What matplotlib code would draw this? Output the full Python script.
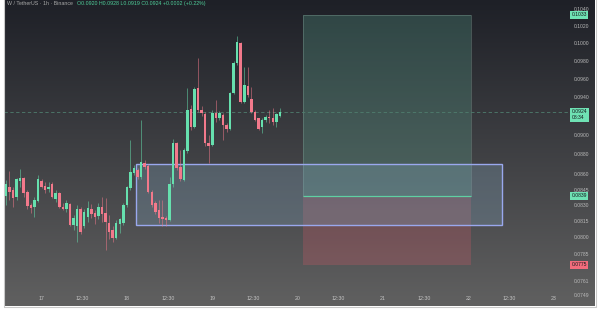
import numpy as np
import matplotlib
matplotlib.use("Agg")
import matplotlib.pyplot as plt
from matplotlib import transforms
from matplotlib.patches import Rectangle
from matplotlib.ticker import FixedLocator, NullLocator, NullFormatter

plt.rcParams["font.family"] = ["Liberation Sans", "DejaVu Sans"]

# --- 1h candles, x = hours since day 17 00:00
hours = np.arange(-10, 68)
opens = [0.0839, 0.0848, 0.0845, 0.0838, 0.0853, 0.0856, 0.0843, 0.0830, 0.0828, 0.0834,
         0.0853, 0.0849, 0.0846, 0.0850, 0.0836, 0.0842, 0.0828, 0.0826, 0.0831, 0.0811,
         0.0810, 0.0826, 0.0810, 0.0819, 0.0826, 0.0823, 0.0820, 0.0828, 0.0823, 0.0813,
         0.0807, 0.0799, 0.0812, 0.0813, 0.0830, 0.0847, 0.0861, 0.0864, 0.0857, 0.0871,
         0.0868, 0.0843, 0.0832, 0.0825, 0.0819, 0.0818, 0.0816, 0.0850, 0.0892, 0.0867,
         0.0854, 0.0883, 0.0927, 0.0908, 0.0950, 0.0926, 0.0922, 0.0892, 0.0889, 0.0923,
         0.0918, 0.0921, 0.0910, 0.0906, 0.0944, 0.0977, 0.1000, 0.0935, 0.0952, 0.0938,
         0.0924, 0.0917, 0.0908, 0.0915, 0.0919, 0.0918, 0.0913, 0.0920]
highs = [0.0854, 0.0863, 0.0848, 0.0856, 0.0865, 0.0857, 0.0845, 0.0832, 0.0838, 0.0859,
         0.0855, 0.0852, 0.0852, 0.0852, 0.0845, 0.0843, 0.0832, 0.0835, 0.0832, 0.0821,
         0.0830, 0.0828, 0.0826, 0.0834, 0.0831, 0.0825, 0.0832, 0.0838, 0.0837, 0.0821,
         0.0810, 0.0816, 0.0818, 0.0832, 0.0849, 0.0895, 0.0869, 0.0866, 0.0915, 0.0874,
         0.0870, 0.0845, 0.0834, 0.0835, 0.0835, 0.0820, 0.0857, 0.0896, 0.0893, 0.0884,
         0.0886, 0.0950, 0.0931, 0.0951, 0.0983, 0.0930, 0.0924, 0.0900, 0.0926, 0.0937,
         0.0925, 0.0923, 0.0912, 0.0945, 0.0980, 0.1008, 0.1001, 0.0973, 0.0973, 0.0951,
         0.0926, 0.0918, 0.0918, 0.0921, 0.0926, 0.0928, 0.0923, 0.0928]
lows = [0.0830, 0.0835, 0.0828, 0.0835, 0.0848, 0.0838, 0.0826, 0.0823, 0.0819, 0.0833,
        0.0847, 0.0842, 0.0843, 0.0837, 0.0833, 0.0827, 0.0825, 0.0824, 0.0810, 0.0807,
        0.0796, 0.0803, 0.0809, 0.0814, 0.0818, 0.0812, 0.0817, 0.0814, 0.0788, 0.0798,
        0.0796, 0.0798, 0.0804, 0.0811, 0.0828, 0.0845, 0.0859, 0.0855, 0.0855, 0.0865,
        0.0842, 0.0828, 0.0822, 0.0813, 0.0810, 0.0810, 0.0815, 0.0848, 0.0864, 0.0853,
        0.0853, 0.0881, 0.0905, 0.0907, 0.0924, 0.0920, 0.0888, 0.0871, 0.0888, 0.0913,
        0.0915, 0.0895, 0.0903, 0.0905, 0.0943, 0.0975, 0.0934, 0.0934, 0.0940, 0.0923,
        0.0914, 0.0905, 0.0902, 0.0913, 0.0912, 0.0910, 0.0908, 0.0919]
closes = [0.0850, 0.0843, 0.0837, 0.0855, 0.0856, 0.0842, 0.0829, 0.0827, 0.0835, 0.0855,
          0.0848, 0.0845, 0.0848, 0.0838, 0.0842, 0.0828, 0.0826, 0.0832, 0.0811, 0.0818,
          0.0826, 0.0805, 0.0824, 0.0827, 0.0822, 0.0819, 0.0828, 0.0822, 0.0814, 0.0805,
          0.0799, 0.0813, 0.0817, 0.0830, 0.0848, 0.0862, 0.0866, 0.0857, 0.0872, 0.0867,
          0.0843, 0.0830, 0.0824, 0.0818, 0.0817, 0.0816, 0.0850, 0.0892, 0.0866, 0.0855,
          0.0884, 0.0926, 0.0908, 0.0949, 0.0926, 0.0923, 0.0892, 0.0888, 0.0923, 0.0917,
          0.0923, 0.0910, 0.0906, 0.0944, 0.0977, 0.1001, 0.0935, 0.0953, 0.0942, 0.0924,
          0.0915, 0.0906, 0.0915, 0.0919, 0.0917, 0.0913, 0.0922, 0.0924]

# --- drawings (hours, price)
zone_t = (26.6, 129.5)
zone_p = (0.0811, 0.0870)
pos_t = (73.6, 120.6)
entry, target, stop = 0.0839, 0.1033, 0.0775
last_price = 0.0924
countdown = "08:34"

price_ticks = [0.1040, 0.1020, 0.1000, 0.0980, 0.0960, 0.0940, 0.0900, 0.0880, 0.0860,
               0.0845, 0.0830, 0.0815, 0.0800, 0.0785, 0.0761, 0.0749]
time_ticks = [0, 11.5, 24, 35.5, 48, 59.5, 72, 83.5, 96, 107.5, 120, 131.5, 144]
time_labels = ["17", "12:30", "18", "12:30", "19", "12:30", "20", "12:30",
               "21", "12:30", "22", "12:30", "23"]

title_a = "W / TetherUS · 1h · Binance"
title_b = "O0.0920 H0.0928 L0.0919 C0.0924 +0.0002 (+0.22%)"

UP, DOWN = "#66e0ae", "#f2798b"
W, H = 600, 315

fig = plt.figure(figsize=(6, 3.15), dpi=100)
fig.patch.set_facecolor("white")

# background gradient over the whole chart frame
bg = fig.add_axes([4 / W, 9 / H, 591 / W, 306 / H])
top = np.array([30, 32, 39]) / 255
bot = np.array([96, 96, 96]) / 255
grad = np.linspace(0, 1, 256)[:, None, None]
bg.imshow(top + (bot - top) * grad, aspect="auto", extent=[0, 1, 0, 1], origin="upper")
bg.set_axis_off()
fig.add_artist(Rectangle((3.5 / W, 8.5 / H), 592 / W, 310 / H, transform=fig.transFigure,
                         fill=False, ec="#c9c9c9", lw=0.8))

ax = fig.add_axes([4 / W, 9 / H, 564 / W, 306 / H])
ax.set_facecolor("none")
ax.set_yscale("log")
ax.set_xlim(-10.54, 147.98)
ax.set_ylim(0.07392, 0.10508)
for s in ax.spines.values():
    s.set_visible(False)

# position tool + zone
ax.add_patch(Rectangle((pos_t[0], entry), pos_t[1] - pos_t[0], target - entry,
                       fc="#5fb39a", alpha=0.25, ec="none", zorder=1))
ax.add_patch(Rectangle((pos_t[0], entry), pos_t[1] - pos_t[0], target - entry,
                       fill=False, ec="#7a9990", alpha=0.5, lw=0.6, zorder=1))
ax.add_patch(Rectangle((pos_t[0], stop), pos_t[1] - pos_t[0], entry - stop,
                       fc="#f05a6a", alpha=0.22, ec="none", zorder=1))
ax.add_patch(Rectangle((zone_t[0], zone_p[0]), zone_t[1] - zone_t[0], zone_p[1] - zone_p[0],
                       fc="#80a2ba", alpha=0.3, ec="none", zorder=2))
ax.add_patch(Rectangle((zone_t[0], zone_p[0]), zone_t[1] - zone_t[0], zone_p[1] - zone_p[0],
                       fill=False, ec="#9aa8ee", lw=1.0, zorder=2))
ax.hlines(entry, pos_t[0], pos_t[1], color="#5fd0a3", lw=0.9, zorder=3)

# last price line
ax.axhline(last_price, color="#4f7d6e", lw=0.6, ls=(0, (4, 3)), zorder=2)

# candles
o = np.array(opens); c = np.array(closes)
cols = [UP if cc >= oo else DOWN for oo, cc in zip(o, c)]
ax.vlines(hours, lows, highs, colors=cols, lw=0.65, alpha=0.55, zorder=4)
bottoms = np.minimum(o, c)
heights = np.maximum(np.abs(c - o), 0.00009)
ax.bar(hours, heights, bottom=bottoms, width=0.7, color=cols, lw=0, zorder=5)

# axes / ticks
ax.yaxis.tick_right()
ax.yaxis.set_major_locator(FixedLocator(price_ticks))
ax.yaxis.set_minor_locator(NullLocator())
ax.yaxis.set_minor_formatter(NullFormatter())
ax.set_yticklabels([f"{p:.4f}" for p in price_ticks])
ax.tick_params(axis="y", length=0, pad=3.8, labelsize=3.6, labelcolor="#b9b9b9")
ax.set_xticks(time_ticks)
ax.set_xticklabels(time_labels)
ax.tick_params(axis="x", length=0, pad=-7.5, labelsize=3.8, labelcolor="#c4c4c4")

# price tags
yx = transforms.blended_transform_factory(ax.transAxes, ax.transData)
def tag(price, text, color, dy=0):
    tr = transforms.offset_copy(yx, fig=fig, x=0, y=dy, units="dots")
    ax.text(1.0062, price, text, transform=tr, ha="left", va="center", fontsize=3.6,
            color="#15181c", linespacing=1.25,
            bbox=dict(boxstyle="square,pad=0.3", fc=color, ec="none"), zorder=10,
            clip_on=False)

tag(target, "0.1033", "#6fe2b4")
tag(last_price, f"{last_price:.4f}\n{countdown}", "#6fe2b4", dy=-3)
tag(entry, "0.0839", "#6fe2b4")
tag(stop, "0.0775", "#f26c7c")

# header line
fig.text(7 / W, 1 - 3.2 / H, title_a, fontsize=3.8, color="#a8a8a8", va="center")
fig.text(77 / W, 1 - 3.2 / H, title_b, fontsize=3.8, color="#4fcf9a", va="center")

fig.savefig("out.png", dpi=100)
